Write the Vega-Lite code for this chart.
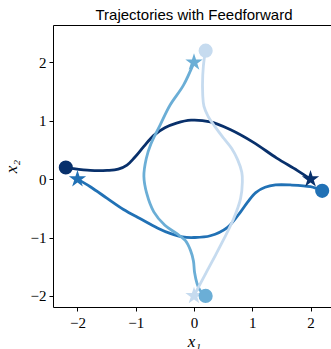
{
  "$schema": "https://vega.github.io/schema/vega-lite/v6.json",
  "width": 282,
  "height": 282,
  "autosize": {"type": "none"},
  "padding": {"left": 53, "top": 25, "right": 0, "bottom": 42},
  "title": {"text": "Trajectories with Feedforward", "font": "Liberation Sans", "fontSize": 15, "fontWeight": "normal", "color": "black", "anchor": "middle", "baseline": "alphabetic", "offset": -10},
  "config": {
    "view": {"stroke": "black", "strokeWidth": 1},
    "axis": {"domain": false, "grid": false, "tickColor": "black", "tickSize": 4, "tickWidth": 1,
      "labelFont": "Liberation Serif", "labelFontSize": 15, "labelColor": "black",
      "titleFont": "Liberation Serif", "titleFontSize": 17, "titleFontStyle": "italic", "titleFontWeight": "normal", "titleColor": "black"}
  },
  "datasets": {
    "paths": [
      {"traj": "A", "t": 0, "x": -2.2, "y": 0.2},
      {"traj": "A", "t": 1, "x": -2.07, "y": 0.18},
      {"traj": "A", "t": 2, "x": -1.78, "y": 0.15},
      {"traj": "A", "t": 3, "x": -1.49, "y": 0.15},
      {"traj": "A", "t": 4, "x": -1.3, "y": 0.17},
      {"traj": "A", "t": 5, "x": -1.15, "y": 0.24},
      {"traj": "A", "t": 6, "x": -1.02, "y": 0.37},
      {"traj": "A", "t": 7, "x": -0.86, "y": 0.56},
      {"traj": "A", "t": 8, "x": -0.69, "y": 0.75},
      {"traj": "A", "t": 9, "x": -0.5, "y": 0.88},
      {"traj": "A", "t": 10, "x": -0.3, "y": 0.96},
      {"traj": "A", "t": 11, "x": -0.05, "y": 1.01},
      {"traj": "A", "t": 12, "x": 0.28, "y": 0.98},
      {"traj": "A", "t": 13, "x": 0.62, "y": 0.85},
      {"traj": "A", "t": 14, "x": 1.02, "y": 0.63},
      {"traj": "A", "t": 15, "x": 1.42, "y": 0.36},
      {"traj": "A", "t": 16, "x": 1.77, "y": 0.15},
      {"traj": "A", "t": 17, "x": 2.0, "y": 0.0},

      {"traj": "B", "t": 0, "x": 2.2, "y": -0.2},
      {"traj": "B", "t": 1, "x": 2.0, "y": -0.13},
      {"traj": "B", "t": 2, "x": 1.65, "y": -0.1},
      {"traj": "B", "t": 3, "x": 1.4, "y": -0.1},
      {"traj": "B", "t": 4, "x": 1.22, "y": -0.14},
      {"traj": "B", "t": 5, "x": 1.06, "y": -0.23},
      {"traj": "B", "t": 6, "x": 0.93, "y": -0.38},
      {"traj": "B", "t": 7, "x": 0.8, "y": -0.56},
      {"traj": "B", "t": 8, "x": 0.57, "y": -0.83},
      {"traj": "B", "t": 9, "x": 0.28, "y": -0.97},
      {"traj": "B", "t": 10, "x": 0.0, "y": -1.0},
      {"traj": "B", "t": 11, "x": -0.2, "y": -0.99},
      {"traj": "B", "t": 12, "x": -0.41, "y": -0.93},
      {"traj": "B", "t": 13, "x": -0.62, "y": -0.84},
      {"traj": "B", "t": 14, "x": -0.92, "y": -0.68},
      {"traj": "B", "t": 15, "x": -1.21, "y": -0.52},
      {"traj": "B", "t": 16, "x": -1.49, "y": -0.33},
      {"traj": "B", "t": 17, "x": -1.78, "y": -0.13},
      {"traj": "B", "t": 18, "x": -2.0, "y": 0.0},

      {"traj": "C", "t": 0, "x": 0.2, "y": -2.0},
      {"traj": "C", "t": 1, "x": 0.1, "y": -1.9},
      {"traj": "C", "t": 2, "x": 0.05, "y": -1.78},
      {"traj": "C", "t": 3, "x": 0.01, "y": -1.6},
      {"traj": "C", "t": 4, "x": -0.01, "y": -1.4},
      {"traj": "C", "t": 5, "x": -0.06, "y": -1.22},
      {"traj": "C", "t": 6, "x": -0.15, "y": -1.05},
      {"traj": "C", "t": 7, "x": -0.3, "y": -0.93},
      {"traj": "C", "t": 8, "x": -0.5, "y": -0.79},
      {"traj": "C", "t": 9, "x": -0.69, "y": -0.56},
      {"traj": "C", "t": 10, "x": -0.81, "y": -0.25},
      {"traj": "C", "t": 11, "x": -0.86, "y": 0.05},
      {"traj": "C", "t": 12, "x": -0.82, "y": 0.35},
      {"traj": "C", "t": 13, "x": -0.74, "y": 0.6},
      {"traj": "C", "t": 14, "x": -0.58, "y": 0.93},
      {"traj": "C", "t": 15, "x": -0.41, "y": 1.27},
      {"traj": "C", "t": 16, "x": -0.18, "y": 1.61},
      {"traj": "C", "t": 17, "x": 0.0, "y": 2.0},

      {"traj": "D", "t": 0, "x": 0.2, "y": 2.2},
      {"traj": "D", "t": 1, "x": 0.18, "y": 2.1},
      {"traj": "D", "t": 2, "x": 0.15, "y": 1.78},
      {"traj": "D", "t": 3, "x": 0.15, "y": 1.44},
      {"traj": "D", "t": 4, "x": 0.17, "y": 1.25},
      {"traj": "D", "t": 5, "x": 0.24, "y": 1.08},
      {"traj": "D", "t": 6, "x": 0.36, "y": 0.9},
      {"traj": "D", "t": 7, "x": 0.51, "y": 0.7},
      {"traj": "D", "t": 8, "x": 0.65, "y": 0.52},
      {"traj": "D", "t": 9, "x": 0.75, "y": 0.33},
      {"traj": "D", "t": 10, "x": 0.82, "y": 0.12},
      {"traj": "D", "t": 11, "x": 0.83, "y": -0.05},
      {"traj": "D", "t": 12, "x": 0.8, "y": -0.33},
      {"traj": "D", "t": 13, "x": 0.68, "y": -0.68},
      {"traj": "D", "t": 14, "x": 0.5, "y": -1.05},
      {"traj": "D", "t": 15, "x": 0.37, "y": -1.3},
      {"traj": "D", "t": 16, "x": 0.22, "y": -1.58},
      {"traj": "D", "t": 17, "x": 0.05, "y": -1.9},
      {"traj": "D", "t": 18, "x": 0.0, "y": -2.0}
    ],
    "starts": [
      {"traj": "A", "x": -2.2, "y": 0.2},
      {"traj": "B", "x": 2.2, "y": -0.2},
      {"traj": "C", "x": 0.2, "y": -2.0},
      {"traj": "D", "x": 0.2, "y": 2.2}
    ],
    "ends": [
      {"traj": "A", "x": 2.0, "y": 0.0},
      {"traj": "B", "x": -2.0, "y": 0.0},
      {"traj": "C", "x": 0.0, "y": 2.0},
      {"traj": "D", "x": 0.0, "y": -2.0}
    ]
  },
  "encoding": {
    "x": {"field": "x", "type": "quantitative", "scale": {"domain": [-2.42, 2.42], "nice": false, "zero": false},
      "axis": {"values": [-2, -1, 0, 1, 2], "title": "x₁", "labelPadding": 4, "titlePadding": 3}},
    "y": {"field": "y", "type": "quantitative", "scale": {"domain": [-2.19, 2.64], "nice": false, "zero": false},
      "axis": {"values": [-2, -1, 0, 1, 2], "title": "x₂", "labelPadding": 3, "titlePadding": 10}},
    "color": {"field": "traj", "type": "nominal", "legend": null,
      "scale": {"domain": ["A", "B", "C", "D"], "range": ["#08306b", "#2171b5", "#6baed6", "#c6dbef"]}}
  },
  "layer": [
    {"data": {"name": "paths"}, "transform": [{"filter": "datum.traj === 'A'"}], "mark": {"type": "line", "strokeWidth": 2.8, "interpolate": "catmull-rom"}, "encoding": {"order": {"field": "t", "type": "quantitative"}}},
    {"data": {"name": "paths"}, "transform": [{"filter": "datum.traj === 'B'"}], "mark": {"type": "line", "strokeWidth": 2.8, "interpolate": "catmull-rom"}, "encoding": {"order": {"field": "t", "type": "quantitative"}}},
    {"data": {"name": "paths"}, "transform": [{"filter": "datum.traj === 'C'"}], "mark": {"type": "line", "strokeWidth": 2.8, "interpolate": "catmull-rom"}, "encoding": {"order": {"field": "t", "type": "quantitative"}}},
    {"data": {"name": "paths"}, "transform": [{"filter": "datum.traj === 'D'"}], "mark": {"type": "line", "strokeWidth": 2.8, "interpolate": "catmull-rom"}, "encoding": {"order": {"field": "t", "type": "quantitative"}}},
    {"data": {"name": "ends"}, "mark": {"type": "point", "filled": true, "opacity": 1, "size": 330, "shape": "M0,-1L0.2245,-0.309L0.951,-0.309L0.363,0.118L0.588,0.809L0,0.382L-0.588,0.809L-0.363,0.118L-0.951,-0.309L-0.2245,-0.309Z"}},
    {"data": {"name": "starts"}, "mark": {"type": "circle", "opacity": 1, "size": 200}}
  ]
}
